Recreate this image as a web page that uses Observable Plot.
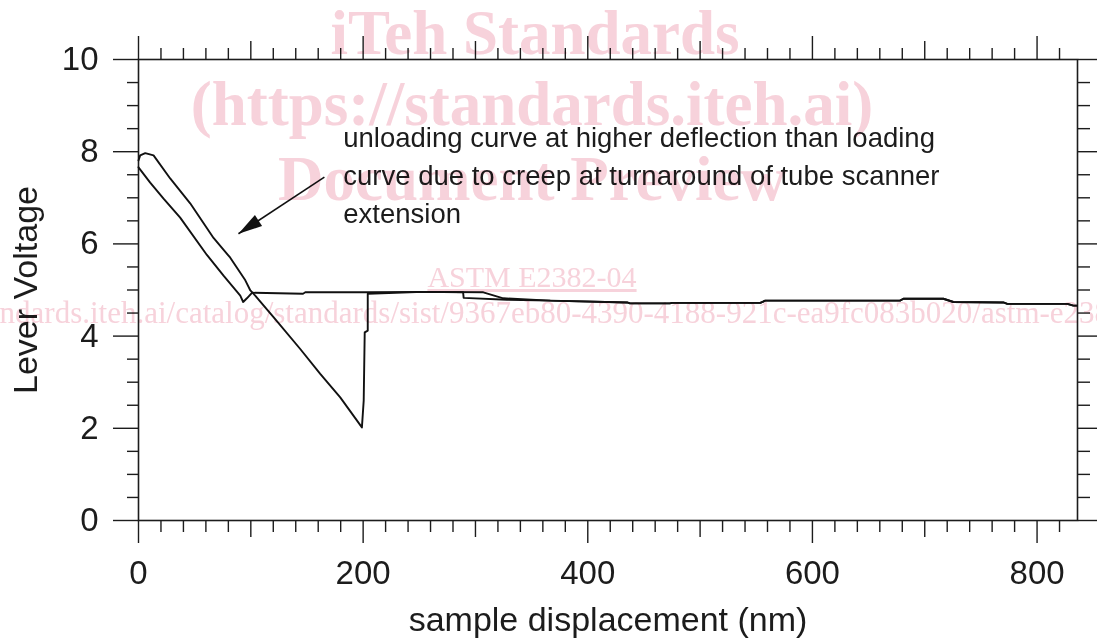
<!DOCTYPE html>
<html>
<head>
<meta charset="utf-8">
<script src="https://cdn.jsdelivr.net/npm/d3@7"></script>
<script src="https://cdn.jsdelivr.net/npm/@observablehq/plot@0.6"></script>
<style>
html, body { margin: 0; padding: 0; background: #fff; }
#wrap { position: relative; width: 1097px; height: 640px; overflow: hidden; }
#chart svg { display: block; }
#wm { position: absolute; left: 0; top: 0; pointer-events: none; mix-blend-mode: multiply; }
#wm text { fill: #f7d2db; font-family: "Liberation Serif", "Times New Roman", serif; }
</style>
</head>
<body>
<div id="wrap">
  <div id="chart"></div>
  <svg id="wm" width="1097" height="640">
    <text x="535" y="54" text-anchor="middle" font-size="63" font-weight="bold">iTeh Standards</text>
    <text x="532" y="125" text-anchor="middle" font-size="63" font-weight="bold">(https://standards.iteh.ai)</text>
    <text x="532" y="200" text-anchor="middle" font-size="63" font-weight="bold">Document Preview</text>
    <text x="532" y="287" text-anchor="middle" font-size="30" text-decoration="underline">ASTM E2382-04</text>
    <text x="-121" y="323" text-anchor="start" font-size="31">https://standards.iteh.ai/catalog/standards/sist/9367eb80-4390-4188-921c-ea9fc083b020/astm-e2382-04</text>
  </svg>
</div>
<script>
// ---- data (sample displacement in nm, lever voltage in V) ----
const loadX = [0, 10.4, 22.3, 37.1, 60.9, 75.7, 90.6, 93.2, 96.5, 101, 146.5, 148.5, 204, 253.5, 289, 289.5, 328, 366.6];
const loadV = [7.66, 7.33, 6.98, 6.57, 5.76, 5.31, 4.88, 4.74, 4.82, 4.94, 4.92, 4.95, 4.95, 4.96, 4.95, 4.83, 4.79, 4.77];

const unloadX = [0, 1.5, 6, 13.4, 28.2, 46, 66.8, 81.7, 95.1, 99.6, 103.9, 120.2, 144, 161.8, 179.6, 198.9, 200.5, 201.4, 204.1, 204.1, 253.5, 307, 324.8, 366.6];
const unloadV = [7.81, 7.92, 7.97, 7.92, 7.42, 6.88, 6.13, 5.70, 5.21, 4.99, 4.88, 4.41, 3.72, 3.18, 2.67, 2.02, 2.60, 4.08, 4.12, 4.92, 4.96, 4.95, 4.82, 4.77];

// shared far-field part of both curves
const tailX = [366.6, 435, 437.6, 473, 475, 553.6, 558, 678, 681, 716.6, 725.5, 770, 773.5, 827, 832.3, 835.6];
const tailV = [4.77, 4.73, 4.71, 4.71, 4.72, 4.72, 4.77, 4.77, 4.81, 4.81, 4.74, 4.73, 4.70, 4.70, 4.66, 4.66];

const xTickLabels = [0, 200, 400, 600, 800];
const yTickLabels = [0, 2, 4, 6, 8, 10];
const xTitle = "sample displacement (nm)";
const yTitle = "Lever Voltage";
const noteLines = [
  "unloading curve at higher deflection than loading",
  "curve due to creep at turnaround of tube scanner",
  "extension"
];

// ---- build tables ----
const toRows = (xs, vs, curve) => xs.map((x, i) => ({x, v: vs[i], curve}));
const loading = toRows(loadX, loadV, "loading").concat(toRows(tailX.slice(1), tailV.slice(1), "loading"));
const unloading = toRows(unloadX, unloadV, "unloading").concat(toRows(tailX.slice(1), tailV.slice(1), "unloading"));

// ---- layout ----
const W = 1097, H = 640;
const mL = 138, mR = 20, mT = 59, mB = 120;
const xMax = 836;
const kx = (W - mL - mR) / xMax, ky = (H - mT - mB) / 10;

const xMinor = d3.range(0, xMax, 20).filter(v => v % 100 !== 0);
const xMid = d3.range(100, xMax, 200);
const yMinor = d3.range(0.5, 10, 0.5).filter(v => v % 2 !== 0);
const blank = () => "";
const ink = "#1c1c1c";

// annotation arrow (data coordinates)
const arrow = [{x1: 165.5, y1: 7.45, x2: 89, y2: 6.22}];
const adx = (arrow[0].x2 - arrow[0].x1) * kx;
const ady = -(arrow[0].y2 - arrow[0].y1) * ky;
const headAngle = Math.atan2(adx, -ady) * 180 / Math.PI;
const headSymbol = {
  draw(ctx) {
    ctx.moveTo(0, 0);
    ctx.lineTo(-6.5, 24);
    ctx.lineTo(6.5, 24);
    ctx.closePath();
  }
};

const chart = Plot.plot({
  width: W,
  height: H,
  marginLeft: mL,
  marginRight: mR,
  marginTop: mT,
  marginBottom: mB,
  x: {domain: [0, xMax]},
  y: {domain: [0, 10]},
  style: {fontFamily: "'Liberation Sans', Arial, sans-serif", color: ink, background: "transparent"},
  marks: [
    Plot.frame({stroke: ink, strokeWidth: 1.6}),
    // bottom ticks
    Plot.axisX(xMinor, {anchor: "bottom", tickSize: 12, tickFormat: blank, label: null, strokeWidth: 1.4}),
    Plot.axisX(xMid, {anchor: "bottom", tickSize: 17, tickFormat: blank, label: null, strokeWidth: 1.4}),
    Plot.axisX(xTickLabels, {anchor: "bottom", tickSize: 23, tickPadding: 17, fontSize: 33, label: null, strokeWidth: 1.4}),
    // top ticks
    Plot.axisX(xMinor, {anchor: "top", tickSize: 12, tickFormat: blank, label: null, strokeWidth: 1.4}),
    Plot.axisX(xMid, {anchor: "top", tickSize: 19, tickFormat: blank, label: null, strokeWidth: 1.4}),
    Plot.axisX(xTickLabels, {anchor: "top", tickSize: 24, tickFormat: blank, label: null, strokeWidth: 1.4}),
    // left ticks
    Plot.axisY(yMinor, {anchor: "left", tickSize: 11, tickFormat: blank, label: null, strokeWidth: 1.4}),
    Plot.axisY(yTickLabels, {anchor: "left", tickSize: 25, tickPadding: 15, fontSize: 33, label: null, strokeWidth: 1.4}),
    // right ticks
    Plot.axisY(yMinor, {anchor: "right", tickSize: 12, tickFormat: blank, label: null, strokeWidth: 1.4}),
    Plot.axisY(yTickLabels, {anchor: "right", tickSize: 20, tickFormat: blank, label: null, strokeWidth: 1.4}),
    // curves
    Plot.line(loading, {x: "x", y: "v", stroke: "#111", strokeWidth: 1.9}),
    Plot.line(unloading, {x: "x", y: "v", stroke: "#111", strokeWidth: 1.9}),
    // titles
    Plot.text([xTitle], {frameAnchor: "bottom", lineAnchor: "middle", textAnchor: "middle", dy: 100, fontSize: 34, fill: ink}),
    Plot.text([yTitle], {frameAnchor: "left", lineAnchor: "middle", textAnchor: "middle", rotate: -90, dx: -112, fontSize: 34, fill: ink}),
    // annotation
    Plot.text([noteLines.join("\n")], {x: 182.3, y: 8.69, textAnchor: "start", lineAnchor: "top", lineHeight: 1.38, fontSize: 27.5, fill: ink}),
    Plot.link(arrow, {x1: "x1", y1: "y1", x2: "x2", y2: "y2", stroke: "#111", strokeWidth: 1.6}),
    Plot.dot(arrow, {x: "x2", y: "y2", symbol: headSymbol, r: 5, fill: "#111", stroke: "none", rotate: headAngle})
  ]
});
document.getElementById("chart").appendChild(chart);
</script>
</body>
</html>
